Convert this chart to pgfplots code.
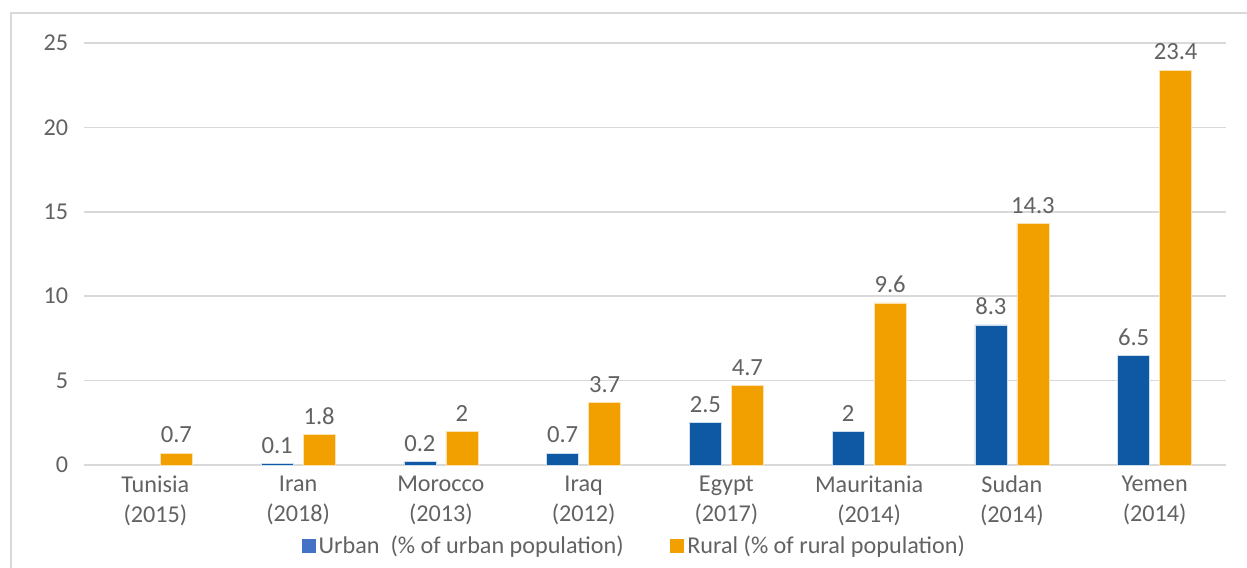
\documentclass[border=0pt]{standalone}
\usepackage{pgfplots}
\pgfplotsset{compat=1.18}
\usepackage{fontspec}
\setmainfont{Carlito}
\definecolor{barblue}{HTML}{0F58A3}
\definecolor{legblue}{HTML}{4472C4}
\definecolor{barorange}{HTML}{F2A000}
\definecolor{txtgray}{HTML}{626262}
\definecolor{gridgray}{HTML}{D9D9D9}
\begin{document}
\begin{tikzpicture}
\clip (-50.4pt,-61.2pt) rectangle (697.8pt,279pt);
\draw[gridgray, line width=0.9pt] (-43.8pt,-80pt) -- (-43.8pt,271.2pt) -- (720pt,271.2pt);
\begin{axis}[
  at={(0pt,0pt)}, anchor=south west,
  scale only axis,
  width=685.2pt, height=253.2pt,
  ybar=6pt, bar width=19.2pt,
  xmin=-0.5, xmax=7.5, ymin=0, ymax=25,
  ytick={0,5,10,15,20,25},
  xtick={0,1,2,3,4,5,6,7},
  xticklabels={{Tunisia\\(2015)},{Iran\\(2018)},{Morocco\\(2013)},{Iraq\\(2012)},{Egypt\\(2017)},{Mauritania\\(2014)},{Sudan\\(2014)},{Yemen\\(2014)}},
  xticklabel style={align=center, font=\fontsize{14.5}{18}\selectfont, text=txtgray, yshift=1.5pt},
  yticklabel style={font=\fontsize{14.5}{16}\selectfont, text=txtgray, xshift=-6pt},
  /pgf/number format/assume math mode=true,
  axis line style={draw=none},
  tick style={draw=none},
  ymajorgrids,
  major grid style={draw=gridgray, line width=0.9pt},
  nodes near coords,
  every node near coord/.append style={font=\fontsize{14.8}{16}\selectfont, text=txtgray, yshift=2.5pt},
  legend style={at={(330.6pt,-48.6pt)}, anchor=center, draw=none, fill=none,
    legend columns=2, font=\fontsize{14.5}{16}\selectfont, text=txtgray,
    /tikz/every even column/.append style={column sep=26pt}},
  legend cell align=left,
]
\addplot[fill=barblue, draw=white!80!barblue, line width=0.4pt, area legend,
  legend image code/.code={\fill[legblue] (0pt,-3.9pt) rectangle (7.8pt,3.9pt);}]
  coordinates {(1,0.1) (2,0.2) (3,0.7) (4,2.5) (5,2) (6,8.3) (7,6.5)};
\addplot[fill=barorange, draw=white!70!barorange, line width=0.4pt, area legend,
  legend image code/.code={\fill[barorange] (0pt,-3.9pt) rectangle (7.8pt,3.9pt);}]
  coordinates {(0,0.7) (1,1.8) (2,2) (3,3.7) (4,4.7) (5,9.6) (6,14.3) (7,23.4)};
\legend{Urban\ \ (\% of urban population), Rural (\% of rural population)}
\end{axis}
\end{tikzpicture}
\end{document}
